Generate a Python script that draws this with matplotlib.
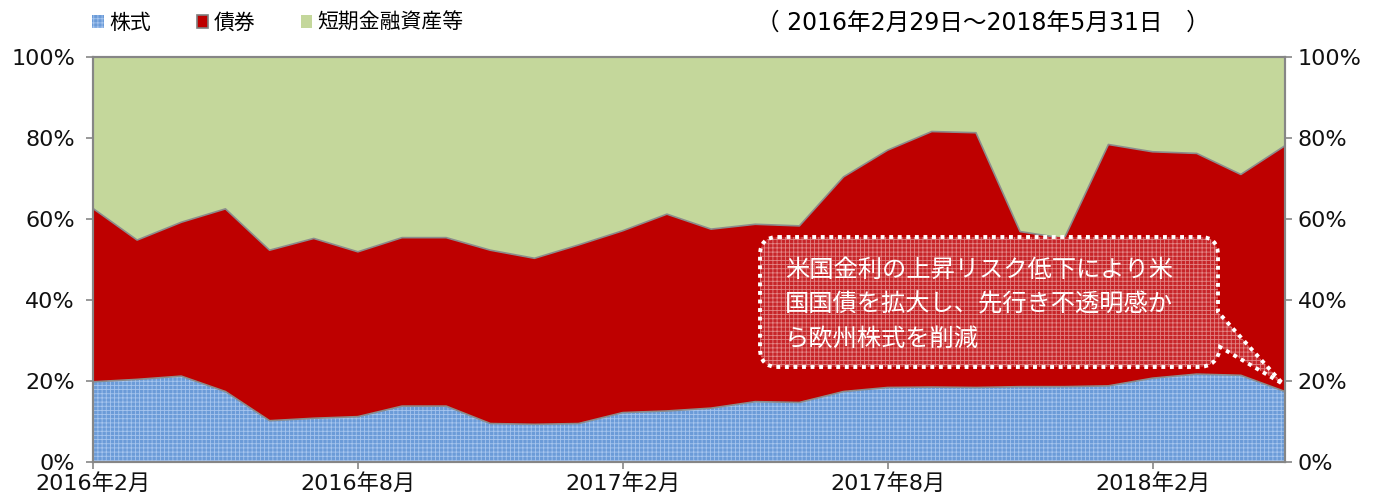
import numpy as np
import pandas as pd
import matplotlib
matplotlib.use('Agg')
import matplotlib.pyplot as plt
from matplotlib.path import Path
from matplotlib.patches import PathPatch, Patch
from matplotlib.transforms import Affine2D

plt.rcParams['font.family'] = ['Noto Sans CJK JP', 'DejaVu Sans']
plt.rcParams['hatch.linewidth'] = 0.6
num_font = ['DejaVu Sans', 'Noto Sans CJK JP']   # wide digits, CJK fallback

# monthly asset allocation (%), 2016/02 - 2018/05
months = pd.date_range('2016-02-01', periods=28, freq='MS')
stocks = [19.8, 20.4, 21.2, 17.4, 10.2, 10.8, 11.2, 13.8, 13.8, 9.5, 9.3, 9.5, 12.2, 12.6,
          13.3, 14.9, 14.7, 17.4, 18.4, 18.5, 18.4, 18.6, 18.6, 18.8, 20.7, 21.7, 21.4, 17.4]
bonds = [42.8, 34.4, 38.0, 45.1, 42.1, 44.4, 40.7, 41.6, 41.6, 42.8, 41.0, 44.1, 44.9, 48.6,
         44.2, 43.8, 43.6, 53.0, 58.6, 63.1, 62.9, 38.3, 36.6, 59.6, 55.9, 54.5, 49.6, 60.7]
cash = [37.4, 45.2, 40.8, 37.5, 47.7, 44.8, 48.1, 44.6, 44.6, 47.7, 49.7, 46.4, 42.9, 38.8,
        42.5, 41.3, 41.7, 29.6, 23.0, 18.4, 18.7, 43.1, 44.8, 21.6, 23.4, 23.8, 29.0, 21.9]
series_names = ['株式', '債券', '短期金融資産等']
period_text = '（ 2016年2月29日～2018年5月31日　）'
note_text = '米国金利の上昇リスク低下により米\n国国債を拡大し、先行き不透明感か\nら欧州株式を削減'

c_stock, c_stock_h = '#6B9BD8', '#A6C5EE'
c_bond = '#BE0000'
c_cash = '#C4D79B'
c_axis = '#868686'

W, H = 1377, 498
fig = plt.figure(figsize=(W / 100, H / 100), dpi=100)
ax = fig.add_axes([93 / W, 1 - 462 / H, (1285 - 93) / W, (462 - 57) / H])

x = np.arange(len(months))
s = np.array(stocks)
b = s + np.array(bonds)
c = b + np.array(cash)

ax.fill_between(x, 0, s, facecolor=c_stock, edgecolor=c_stock_h, hatch='++++', linewidth=0)
ax.fill_between(x, s, b, facecolor=c_bond, linewidth=0)
ax.fill_between(x, b, c, facecolor=c_cash, linewidth=0)
ax.plot(x, s, color='#8C8C8C', lw=1.2)
ax.plot(x, b, color='#8C8C8C', lw=1.2)

ax.set_xlim(0, len(months) - 1)
ax.set_ylim(0, 100)
yt = np.arange(0, 101, 20)
ax.set_yticks(yt)
ax.set_yticklabels([f'{v}%' for v in yt], family=num_font)
xt = x[::6]
ax.set_xticks(xt)
ax.set_xticklabels([f'{months[i].year}年{months[i].month}月' for i in xt], family=num_font)

ax2 = ax.twinx()
ax2.set_ylim(0, 100)
ax2.set_yticks(yt)
ax2.set_yticklabels([f'{v}%' for v in yt], family=num_font)

for a in (ax, ax2):
    for sp in a.spines.values():
        sp.set_color(c_axis)
        sp.set_linewidth(1.5)
    a.tick_params(direction='out', length=5, width=1.2, color=c_axis, labelsize=16,
                  labelcolor='#111111')
ax.tick_params(axis='y', pad=8)
ax.tick_params(axis='x', pad=3)
ax2.tick_params(axis='y', pad=4)

# legend
handles = [Patch(facecolor=c_stock, edgecolor=c_stock_h, hatch='++++', linewidth=0),
           Patch(facecolor=c_bond, edgecolor='#7F7F7F', linewidth=1.2),
           Patch(facecolor=c_cash, linewidth=0)]
fig.legend(handles, series_names, loc='center left', bbox_to_anchor=(84 / W, 1 - 23 / H),
           ncol=3, frameon=False, fontsize=15, handlelength=0.55, handleheight=0.55,
           handletextpad=0.25, columnspacing=2.2, borderaxespad=0)

fig.text(756 / W, 1 - 23 / H, period_text, ha='left', va='center', fontsize=17,
         family=num_font)

# callout box (pixel coords, y down)
L, R, T, B, r = 760, 1218, 237, 367, 18
tip = (1283, 384)
verts = [(L + r, T), (R - r, T), (R, T), (R, T + r), (R, 312), tip, (1220, 347),
         (1218, B), (1198, B), (L + r, B), (L, B), (L, B - r), (L, T + r), (L, T), (L + r, T)]
codes = [Path.MOVETO, Path.LINETO, Path.CURVE3, Path.CURVE3, Path.LINETO, Path.LINETO,
         Path.LINETO, Path.CURVE3, Path.CURVE3, Path.LINETO, Path.CURVE3, Path.CURVE3,
         Path.LINETO, Path.CURVE3, Path.CURVE3]
callout = Path(verts, codes)
tr = Affine2D().scale(1 / W, -1 / H).translate(0, 1) + fig.transFigure
fig.add_artist(PathPatch(callout, transform=tr, facecolor='#C8282C', edgecolor='#E58A8A',
                         hatch='++++', linewidth=0, alpha=0.95))
fig.add_artist(PathPatch(callout, transform=tr, fill=False, edgecolor='white',
                         linestyle=(0, (1, 1.2)), linewidth=2.8))
fig.text(785 / W, 1 - 257 / H, note_text, ha='left', va='top', fontsize=17.5,
         color='white', linespacing=1.43)

fig.savefig('out.png', dpi=100)
